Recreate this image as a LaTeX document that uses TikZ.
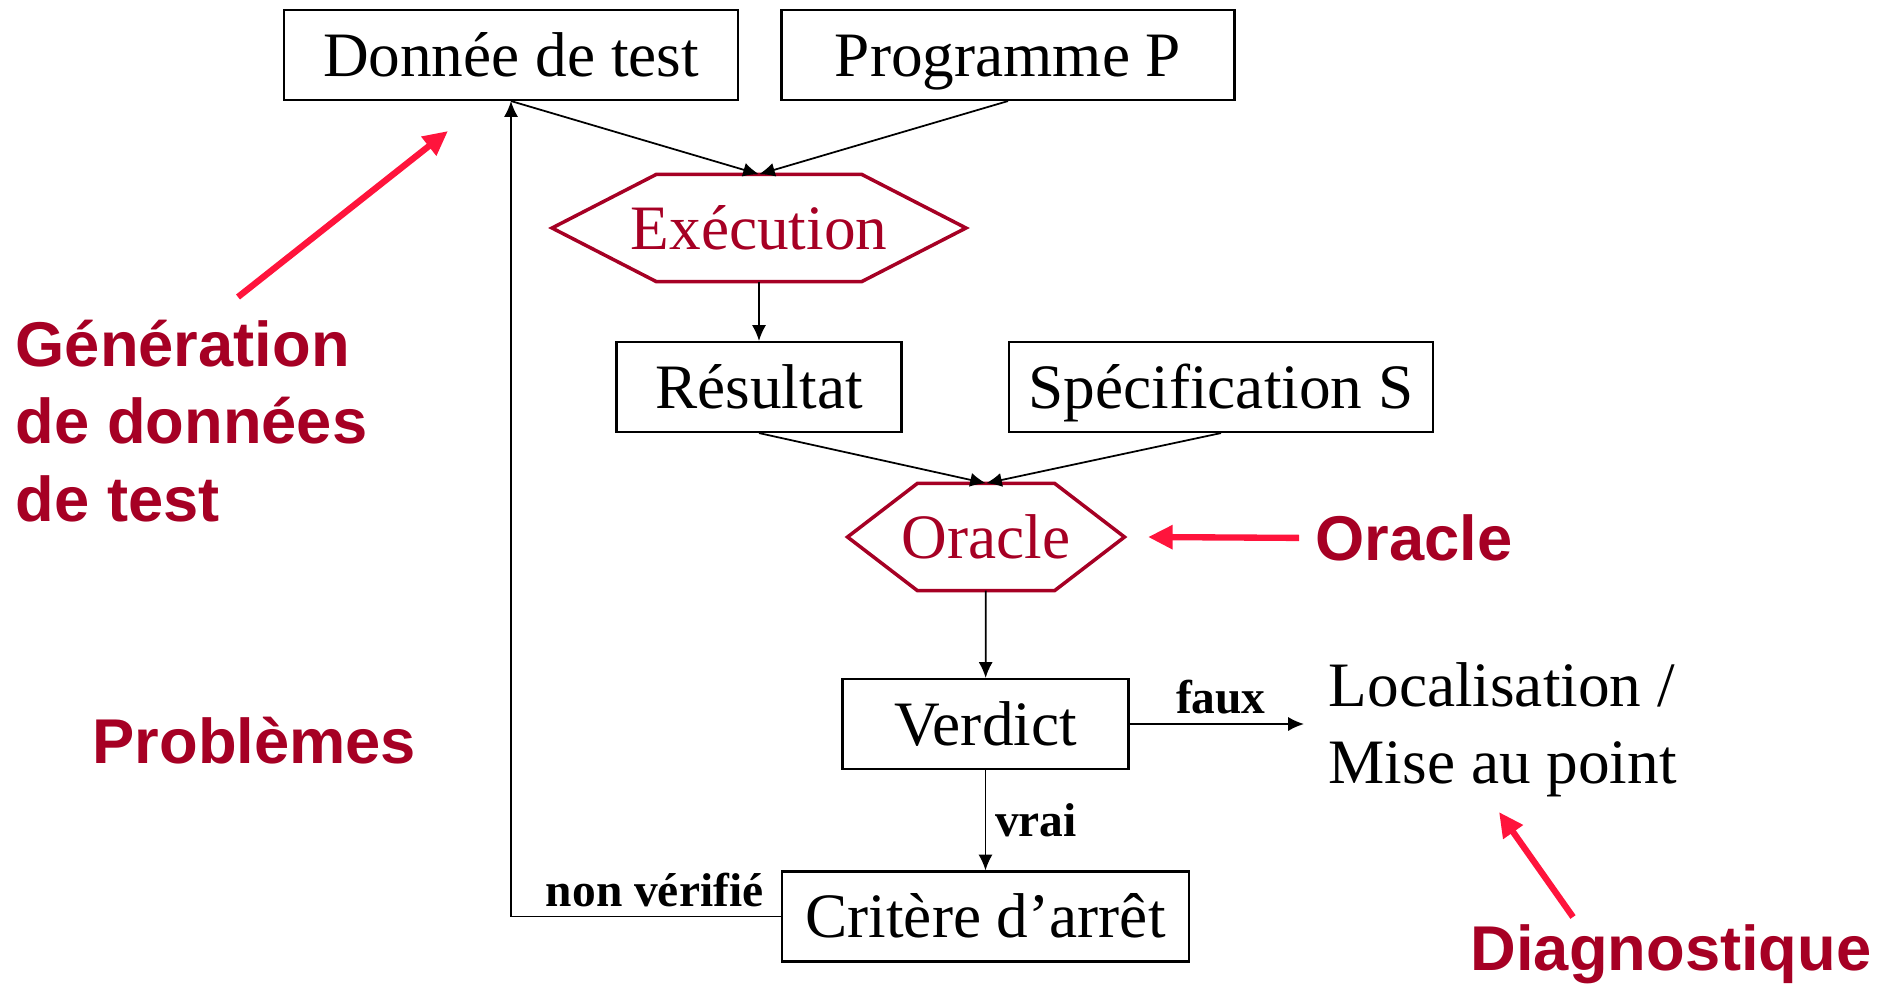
\documentclass[tikz,border=0pt]{standalone}
\usepackage{fontspec}
\setmainfont{Liberation Serif}
\setsansfont{Liberation Sans}
\usetikzlibrary{arrows.meta}
\definecolor{darkred}{RGB}{166,0,36}
\definecolor{brightred}{RGB}{255,20,60}

\begin{document}
\begin{tikzpicture}[x=0.1mm, y=-0.1mm,
	box/.style={rectangle, draw, line width=0.6pt, inner sep=0pt, minimum height=9mm, text height=15pt, text depth=3pt, font=\fontsize{18}{21.8}\selectfont},
	hexlbl/.style={rectangle, inner sep=0pt, minimum height=10.6mm, text height=15pt, text depth=3pt, text=darkred, font=\fontsize{18}{21.8}\selectfont},
	hexline/.style={draw=darkred, line width=1pt},
	flow/.style={-{Latex[length=4.5pt,width=4pt]}, line width=0.5pt},
	lbl/.style={inner sep=2.5pt, font=\bfseries\fontsize{13.5}{16}\selectfont},
	note/.style={inner sep=0pt, align=left, text=darkred, font=\sffamily\bfseries\fontsize{18}{22}\selectfont},
	hint/.style={-{Triangle[length=7pt,width=6.5pt]}, draw=brightred, line width=1.8pt}]

	\useasboundingbox (0,0) rectangle (1892,986);

	\node 	(don)		at	(511,55) 	[box, minimum width=45.4mm]{Donnée de test};
	\node 	(prog)		at	(1008,55) 	[box, minimum width=45.3mm]{Programme P};

	\node 	(exec)		at	(759,228) 	[hexlbl]{Exécution};
	\draw[hexline] ([xshift=-10.25mm]exec.north) -- ([xshift=10.25mm]exec.north) -- ([xshift=20.7mm]exec.center) -- ([xshift=10.25mm]exec.south) -- ([xshift=-10.25mm]exec.south) -- ([xshift=-20.7mm]exec.center) -- cycle;

	\node 	(res)		at	(759,387) 	[box, minimum width=28.5mm]{Résultat};
	\node 	(spec)		at	(1221,387) 	[box, minimum width=42.4mm]{Spécification S};

	\node 	(oracle)	at	(986,537) 	[hexlbl]{Oracle};
	\draw[hexline] ([xshift=-6.85mm]oracle.north) -- ([xshift=6.85mm]oracle.north) -- ([xshift=13.85mm]oracle.center) -- ([xshift=6.85mm]oracle.south) -- ([xshift=-6.85mm]oracle.south) -- ([xshift=-13.85mm]oracle.center) -- cycle;

	\node 	(verdict)	at	(985.5,724) 	[box, minimum width=28.6mm]{Verdict};
	\node 	(crit)		at	(985.5,916.5) 	[box, minimum width=40.7mm]{Critère d’arrêt};

	\node 	(loc)		at	(1328,730) 	[anchor=west, inner sep=0pt, align=left, font=\fontsize{18}{21.8}\selectfont]{Localisation /\\Mise au point};

	\draw[flow]	(don.south)	to	(exec.north);
	\draw[flow]	(prog.south)	to	(exec.north);
	\draw[flow]	(exec)	to	(res);

	\draw[flow]	(res.south)	to	(oracle.north);
	\draw[flow]	(spec.south)	to	(oracle.north);
	\draw[flow]	(oracle)	to	(verdict);

	\draw[flow, shorten >=2.4mm]	(verdict)	to	node[lbl, pos=0.46, above]{faux}	(verdict -| loc.west);
	\draw[flow]	(verdict)	to	node[lbl, right]{vrai}	(crit);
	\draw[flow]	(crit.west)	-|	node[lbl, pos=0.234, above]{non vérifié}	(don.south);

	% problemes
	\node 	(gen)		at	(15,421) 	[note, anchor=west]{Génération\\de données\\de test};
	\node 	(orlbl)		at	(1315,538) 	[note, anchor=west]{Oracle};
	\node 	(prob)		at	(92,741) 	[note, anchor=west]{Problèmes};
	\node 	(diag)		at	(1470,954) 	[note, anchor=west]{Diagnostique};

	\coordinate	(genfrom)	at	(238,297);
	\coordinate	(gento)		at	(448,131);
	\coordinate	(ortip)		at	(1148,537);
	\coordinate	(diagfrom)	at	(1573,917);
	\coordinate	(diagto)	at	(1499,812);

	\draw[hint]	(genfrom)	--	(gento);
	\draw[hint, shorten <=1.6mm]	(orlbl.west)	--	(ortip);
	\draw[hint]	(diagfrom)	--	(diagto);

\end{tikzpicture}
\end{document}
